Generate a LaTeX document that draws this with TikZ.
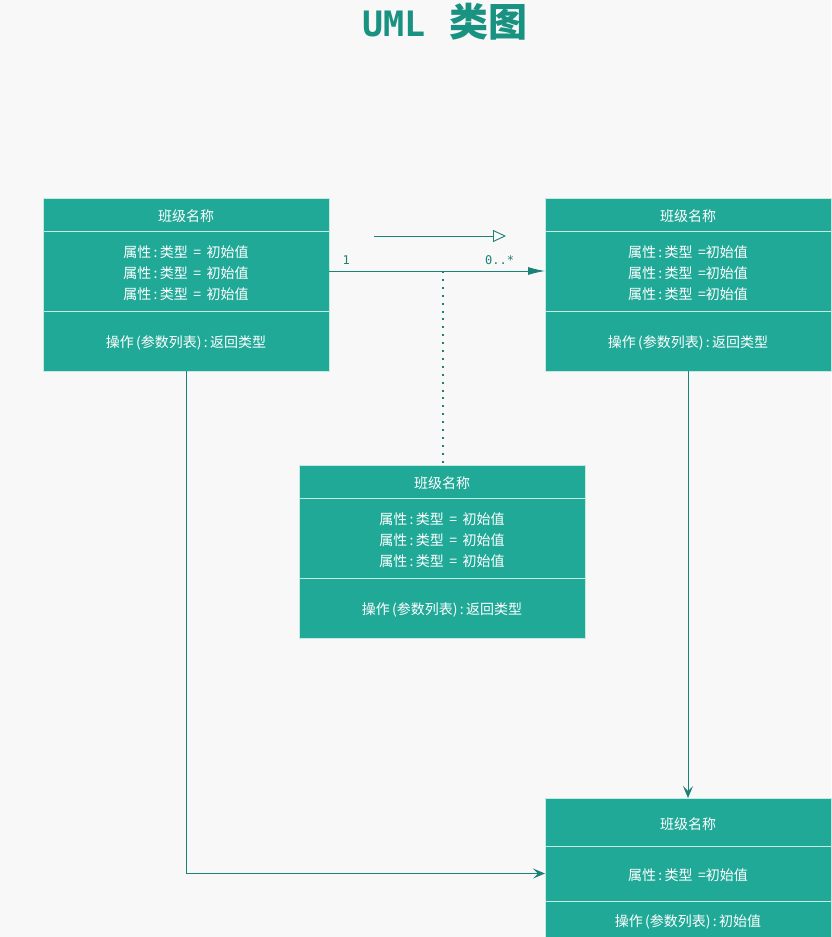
\documentclass[tikz,border=0pt]{standalone}
\usepackage{fontspec}
\usetikzlibrary{positioning,arrows.meta}
\newfontfamily\cjk{Noto Sans CJK SC}
\newfontfamily\ttmono{DejaVu Sans Mono}
\definecolor{bg}{HTML}{F8F8F8}
\definecolor{cls}{HTML}{21A998}
\definecolor{sep}{HTML}{C4EAE3}
\definecolor{lnk}{HTML}{1B8275}
\definecolor{ttl}{HTML}{1A9282}
\newcommand{\dn}[1]{\raisebox{-2pt}[\height][\depth]{#1}}
\newcommand{\fld}{属性\,:\,类型}

\begin{document}
\begin{tikzpicture}[x=1pt,y=-1pt,font=\cjk\fontsize{14}{21}\selectfont,
  part/.style={draw=sep,fill=cls,text=white,minimum width=286pt,inner sep=0pt,outer sep=0pt,align=center,line width=0.8pt},
  hd/.style={part,minimum height=33pt},
  attr/.style={part,minimum height=80pt},
  oper/.style={part,minimum height=60pt},
  lk/.style={draw=lnk,line width=0.9pt},
  lbl/.style={text=lnk,font=\ttmono\fontsize{12}{12}\selectfont,inner sep=0pt}]
  \fill[bg] (0,0) rectangle (831,937);
  \useasboundingbox (0,0) rectangle (831,937);
  \node[text=ttl,font=\cjk\bfseries\fontsize{39}{39}\selectfont] (title) at (445,22)
    {{\ttmono\bfseries\fontsize{35}{35}\selectfont UML}\hspace{24pt}类图};
  % class boxes
  \node[hd,anchor=north west] (a1) at (43,198) {\dn{班级名称}};
  \node[attr,below=0pt of a1] (a2) {\dn{\fld\ \,=\ \,初始值}\\\dn{\fld\ \,=\ \,初始值}\\\dn{\fld\ \,=\ \,初始值}};
  \node[oper,below=0pt of a2] (a3) {\dn{操作\,(参数列表)\,:\,返回类型}};
  \node[hd,anchor=north west] (b1) at (545,198) {\dn{班级名称}};
  \node[attr,below=0pt of b1] (b2) {\dn{\fld\ \,=初始值}\\\dn{\fld\ \,=初始值}\\\dn{\fld\ \,=初始值}};
  \node[oper,below=0pt of b2] (b3) {\dn{操作\,(参数列表)\,:\,返回类型}};
  \node[hd,anchor=north west] (c1) at (299,465) {\dn{班级名称}};
  \node[attr,below=0pt of c1] (c2) {\dn{\fld\ \,=\ \,初始值}\\\dn{\fld\ \,=\ \,初始值}\\\dn{\fld\ \,=\ \,初始值}};
  \node[oper,below=0pt of c2] (c3) {\dn{操作\,(参数列表)\,:\,返回类型}};
  \node[hd,anchor=north west,minimum height=48pt] (d1) at (545,798) {\dn{班级名称}};
  \node[attr,below=0pt of d1,minimum height=55pt] (d2) {\dn{\fld\ \,=初始值}};
  \node[oper,below=0pt of d2,minimum height=38pt] (d3) {\dn{操作\,(参数列表)\,:\,初始值}};
  % links
  \coordinate (p1) at (374,236);
  \coordinate (p2) at (506,236);
  \draw[lk,-{Triangle[open,length=13pt,width=12pt,fill=bg]}] (p1) -- (p2);
  \draw[lk,-{Latex[length=17pt,width=8pt]}] (a2.east) --
    node[lbl,pos=0.08,above=6pt] (m1) {1}
    node[lbl,pos=0.79,above=6pt] (m2) {0..*}
    coordinate[pos=0.528] (mid) (b2.west);
  \draw[lk,line width=1.3pt,dash pattern=on 2pt off 5.9pt] (mid) -- (mid |- c1.north);
  \draw[lk,-{Stealth[length=12pt,width=10pt,inset=5pt]}] (a3.south) |- (d2.west);
  \draw[lk,-{Stealth[length=12pt,width=10pt,inset=5pt]}] (b3.south) -- (d1.north);
\end{tikzpicture}
\end{document}
